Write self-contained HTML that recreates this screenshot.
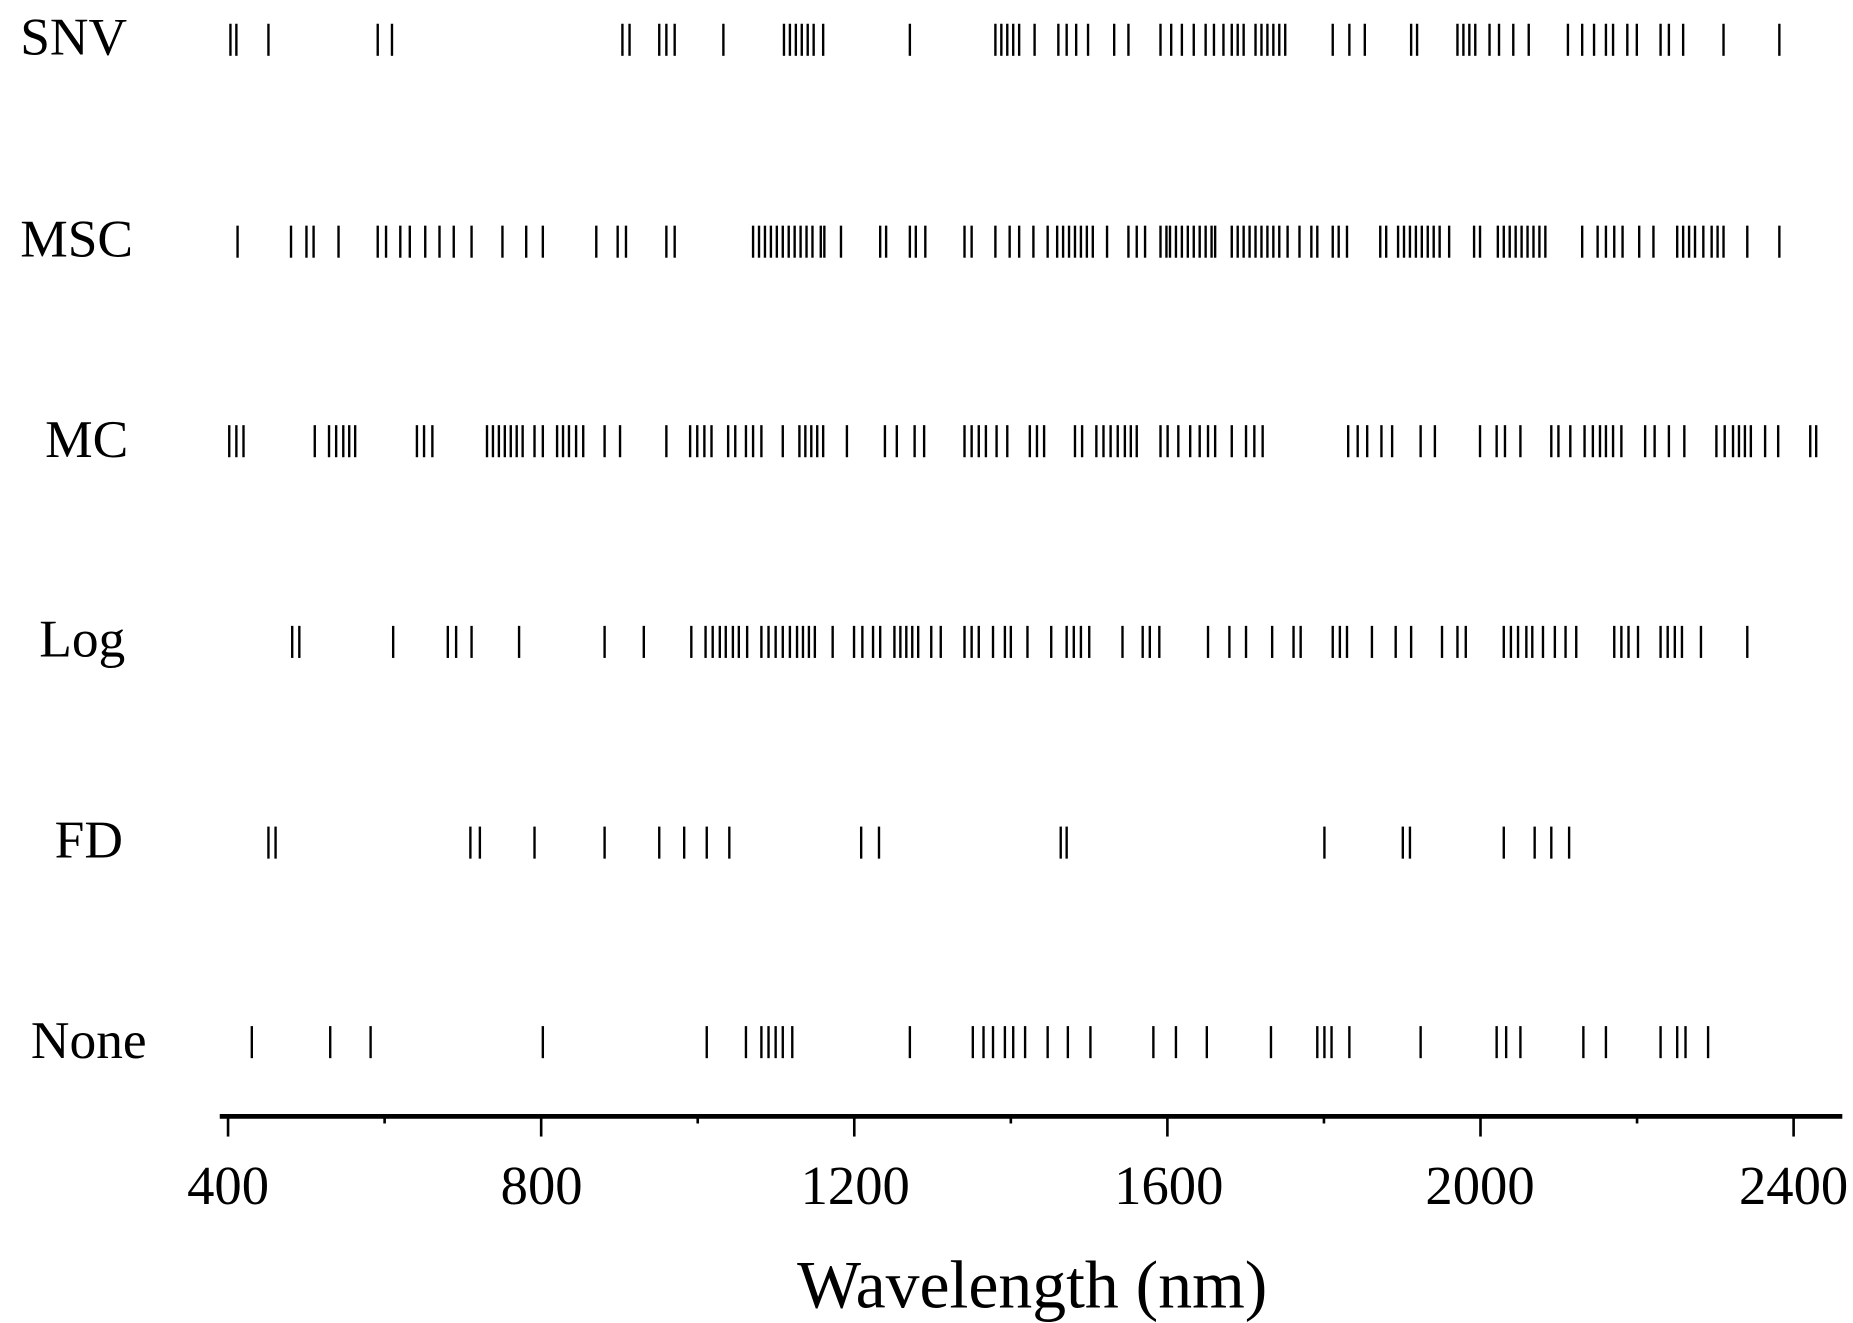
<!DOCTYPE html>
<html><head><meta charset="utf-8"><style>
html,body{margin:0;padding:0;background:#fff;}
svg{display:block;}
text{font-family:"Liberation Serif",serif;fill:#000;}
</style></head><body>
<svg id="s" width="1853" height="1323" viewBox="0 0 1560 1114" preserveAspectRatio="none" xmlns="http://www.w3.org/2000/svg">
<rect width="1560" height="1114" fill="#fff"/>
<g font-size="45">
<text x="17" y="46">SNV</text>
<text x="17" y="216">MSC</text>
<text x="38" y="385">MC</text>
<text x="33" y="553">Log</text>
<text x="46" y="722">FD</text>
<text x="26" y="891">None</text>
</g>
<line x1="185" y1="940" x2="1551" y2="940" stroke="#000" stroke-width="4"/>
<g id="ax" stroke="#000" stroke-width="2.2"></g>
<g id="ticks" stroke="#000" stroke-width="2"></g>
<g font-size="46" text-anchor="middle">
<text x="192" y="1014">400</text>
<text x="456" y="1014">800</text>
<text x="720" y="1014">1200</text>
<text x="984" y="1014">1600</text>
<text x="1246" y="1014">2000</text>
<text x="1510" y="1014">2400</text>
</g>
<text x="869" y="1101" font-size="57" text-anchor="middle">Wavelength (nm)</text>
</svg>
<script>
var NS="http://www.w3.org/2000/svg";
function L(g,x1,y1,x2,y2){var l=document.createElementNS(NS,"line");l.setAttribute("x1",x1);l.setAttribute("y1",y1);l.setAttribute("x2",x2);l.setAttribute("y2",y2);g.appendChild(l);}
var ax=document.getElementById("ax");
for(var i=0;i<11;i++){var x=192+i*131.8;L(ax,x,940,x,i%2==0?957:946);}
var rows=[
[20,[194,199,226,318,330,524,530,555,561,568,609,660,665,670,675,680,685,693,766,838,843,848,853,858,871,891,898,906,916,938,950,977,986,995,1005,1015,1022,1030,1037,1042,1047,1057,1062,1067,1072,1077,1082,1122,1136,1149,1188,1193,1227,1232,1237,1242,1254,1262,1274,1287,1320,1332,1342,1352,1358,1370,1378,1398,1405,1417,1451,1498]],
[190,[200,245,258,264,285,318,325,337,345,358,370,382,397,423,443,457,502,520,527,561,568,634,639,644,649,654,659,664,669,674,679,684,691,694,708,741,746,766,771,779,812,818,838,850,858,870,882,890,895,900,905,910,915,920,932,950,957,964,977,982,985,990,995,1000,1005,1010,1015,1020,1023,1037,1042,1047,1052,1057,1062,1067,1072,1077,1084,1094,1104,1109,1122,1127,1134,1162,1167,1177,1182,1187,1192,1197,1202,1207,1212,1220,1241,1246,1261,1266,1271,1276,1281,1286,1291,1296,1301,1332,1345,1352,1359,1366,1380,1392,1412,1417,1422,1427,1434,1441,1446,1451,1471,1498]],
[358,[193,199,205,265,277,283,289,294,299,351,357,364,410,415,420,425,430,435,440,450,457,469,474,479,485,491,509,522,561,581,587,593,599,613,619,628,634,641,659,673,678,683,688,693,713,745,755,770,778,812,818,824,830,839,848,867,873,879,905,911,923,929,935,941,947,952,957,977,983,992,1002,1010,1017,1023,1037,1049,1056,1063,1135,1143,1151,1163,1172,1196,1208,1246,1260,1267,1280,1306,1312,1322,1334,1341,1347,1352,1358,1365,1385,1393,1405,1418,1445,1452,1459,1464,1469,1474,1486,1497,1524,1529]],
[527,[246,252,331,377,384,397,437,509,542,582,594,600,606,611,617,622,629,641,647,653,659,665,671,676,681,686,701,719,726,735,741,753,758,763,768,773,784,792,812,818,824,836,846,851,865,885,898,904,910,917,945,962,968,976,1017,1035,1049,1071,1089,1095,1122,1128,1134,1155,1175,1188,1214,1227,1234,1266,1272,1278,1285,1290,1299,1309,1318,1327,1359,1365,1371,1379,1398,1404,1410,1416,1432,1471]],
[696,[226,232,396,404,450,509,555,576,595,614,725,740,893,898,1115,1181,1187,1266,1292,1306,1321]],
[864,[212,278,312,457,595,628,641,647,653,659,667,766,819,828,836,846,853,863,882,899,918,971,990,1016,1070,1109,1115,1121,1136,1196,1260,1268,1280,1333,1352,1398,1412,1419,1438]]
];
var tg=document.getElementById("ticks");
rows.forEach(function(r){r[1].forEach(function(x){L(tg,x,r[0],x,r[0]+27);});});
</script>
</body></html>
